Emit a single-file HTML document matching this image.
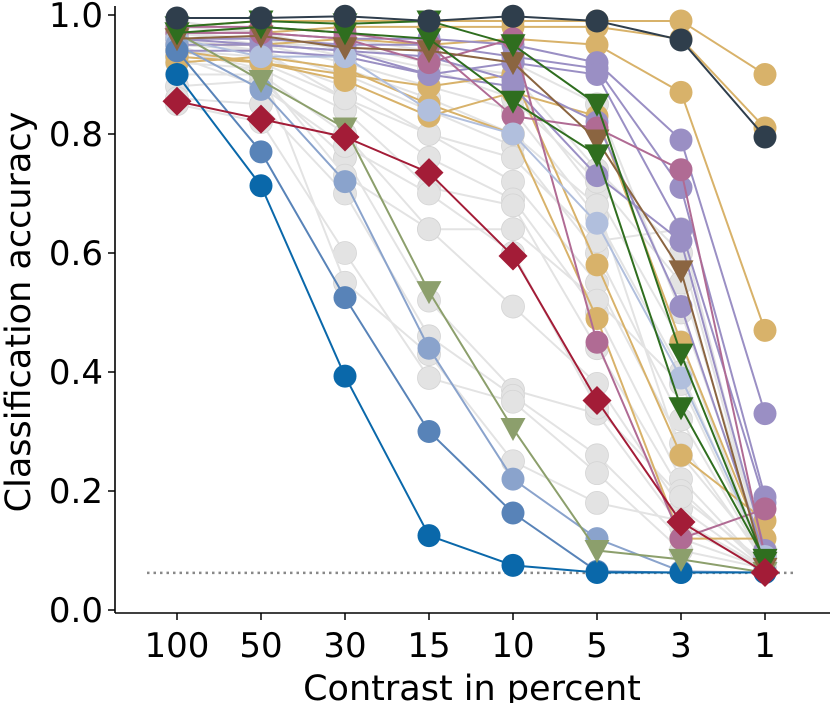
<!DOCTYPE html>
<html><head><meta charset="utf-8">
<style>
html,body{margin:0;padding:0;background:#fff;}
svg{display:block;font-family:"DejaVu Sans","Liberation Sans",sans-serif;}
</style></head>
<body>
<svg id="chart" width="830" height="703" viewBox="0 0 830 703">
  <g id="marks"></g>
  <line x1="115" y1="6" x2="115" y2="613" stroke="#000" stroke-width="1.6"/>
  <line x1="115" y1="613" x2="830" y2="613" stroke="#000" stroke-width="1.6"/>
  <g id="axes"></g>
  <text x="30" y="312" font-size="35" text-anchor="middle" transform="rotate(-90 30 312)">Classification accuracy</text>
  <text x="472" y="700" font-size="35" text-anchor="middle">Contrast in percent</text>
</svg>
<script>
const categories = ["100","50","30","15","10","5","3","1"];
const yTicks = [0.0,0.2,0.4,0.6,0.8,1.0];
const chance = 0.0625;
const grayValues = [
 [0.97,0.96,0.93,0.90,0.88,0.70,0.45,0.08],
 [0.96,0.95,0.92,0.88,0.84,0.66,0.40,0.08],
 [0.95,0.94,0.90,0.84,0.78,0.60,0.32,0.08],
 [0.94,0.93,0.88,0.80,0.72,0.55,0.28,0.08],
 [0.93,0.92,0.86,0.76,0.69,0.50,0.22,0.07],
 [0.92,0.91,0.84,0.71,0.68,0.44,0.20,0.07],
 [0.90,0.90,0.80,0.64,0.51,0.38,0.17,0.07],
 [0.88,0.89,0.76,0.52,0.37,0.33,0.14,0.07],
 [0.86,0.85,0.70,0.46,0.36,0.26,0.12,0.07],
 [0.85,0.82,0.60,0.39,0.35,0.23,0.10,0.07],
 [0.97,0.95,0.95,0.92,0.90,0.74,0.60,0.09],
 [0.98,0.97,0.94,0.91,0.86,0.72,0.55,0.10],
 [0.96,0.94,0.86,0.80,0.76,0.62,0.64,0.09],
 [0.95,0.90,0.73,0.64,0.64,0.52,0.38,0.08],
 [0.99,0.97,0.96,0.94,0.92,0.85,0.50,0.10],
 [0.94,0.91,0.55,0.43,0.25,0.18,0.15,0.07],
 [0.93,0.88,0.78,0.70,0.60,0.34,0.19,0.08],
 [0.96,0.93,0.91,0.86,0.80,0.68,0.26,0.09]
];
const colorNames = ["gold","gold","gold","gold","gold","gold","purple","purple","purple","purple","purple","mauve","mauve","lightest-blue","lighter-blue","mid-blue","dark-blue","olive","brown","green","green","slate","red"];
const colorHex = ["#d8b26a","#d8b26a","#d8b26a","#d8b26a","#d8b26a","#d8b26a","#9a8fc4","#9a8fc4","#9a8fc4","#9a8fc4","#9a8fc4","#b06b94","#b06b94","#b1bfdd","#8aa3cc","#5883b8","#0a68aa","#8c9f6c","#8b6541","#2f6e1f","#2f6e1f","#2f3e4c","#a31c37"];
const shapes = ["o","o","o","o","o","o","o","o","o","o","o","o","o","o","o","o","o","v","v","v","v","o","d"];
const colorValues = [
 [0.98,0.99,0.99,0.99,0.99,0.99,0.99,0.90],
 [0.97,0.97,0.98,0.98,0.98,0.98,0.96,0.81],
 [0.95,0.95,0.96,0.95,0.96,0.95,0.87,0.47],
 [0.93,0.92,0.90,0.88,0.90,0.58,0.26,0.15],
 [0.92,0.93,0.91,0.85,0.80,0.49,0.12,0.12],
 [0.94,0.92,0.89,0.83,0.87,0.83,0.45,0.10],
 [0.97,0.97,0.96,0.96,0.95,0.92,0.79,0.33],
 [0.96,0.96,0.95,0.95,0.93,0.91,0.71,0.19],
 [0.95,0.95,0.94,0.90,0.92,0.90,0.64,0.18],
 [0.94,0.94,0.93,0.90,0.88,0.73,0.62,0.10],
 [0.96,0.95,0.94,0.93,0.89,0.82,0.51,0.09],
 [0.97,0.97,0.96,0.92,0.96,0.45,0.12,0.17],
 [0.98,0.98,0.97,0.95,0.83,0.81,0.74,0.09],
 [0.96,0.93,0.93,0.84,0.80,0.65,0.39,0.09],
 [0.95,0.875,0.72,0.44,0.22,0.12,0.065,0.063],
 [0.94,0.77,0.525,0.30,0.163,0.065,0.063,0.063],
 [0.90,0.713,0.393,0.125,0.075,0.063,0.063,0.063],
 [0.97,0.89,0.81,0.535,0.305,0.10,0.085,0.063],
 [0.96,0.965,0.945,0.94,0.92,0.79,0.57,0.07],
 [0.98,0.99,0.985,0.99,0.95,0.85,0.43,0.08],
 [0.97,0.98,0.97,0.96,0.855,0.765,0.34,0.085],
 [0.995,0.995,0.998,0.99,0.998,0.99,0.958,0.795],
 [0.855,0.825,0.795,0.735,0.595,0.352,0.148,0.063]
];
const NS="http://www.w3.org/2000/svg";
function xs(i){return 177+i*84;}
function ys(v){return 610-v*595;}
const marks=document.getElementById('marks');
const axes=document.getElementById('axes');
function mk(tag,attrs,parent){const e=document.createElementNS(NS,tag);for(const k in attrs)e.setAttribute(k,attrs[k]);parent.appendChild(e);return e;}
function drawSeries(vals,color,shape,name,edge){
  const g=mk('g',{},marks);
  
  
  const pts=vals.map((v,i)=>xs(i)+','+ys(v)).join(' ');
  const pl=mk('polyline',{points:pts,fill:'none',stroke:color,'stroke-width':2},g);
  
  
  vals.forEach((v,i)=>{
    const x=xs(i),y=ys(v);let m;
    if(shape==='o')m=mk('circle',{cx:x,cy:y,r:11.5,fill:color,stroke:edge,'stroke-width':0.8},g);
    else if(shape==='v')m=mk('polygon',{points:(x-12.5)+','+(y-10.5)+' '+(x+12.5)+','+(y-10.5)+' '+x+','+(y+12.5),fill:color},g);
    else m=mk('polygon',{points:x+','+(y-14.5)+' '+(x+14.5)+','+y+' '+x+','+(y+14.5)+' '+(x-14.5)+','+y,fill:color},g);
    
    
  });
}
grayValues.forEach((vals,k)=>drawSeries(vals,'#e3e3e3','o','gray-series-'+k,'#d4d4d4'));
const cl=mk('line',{x1:147,x2:797,y1:ys(chance),y2:ys(chance),stroke:'#888','stroke-width':2.5,'stroke-dasharray':'2.5,4'},marks);


colorValues.forEach((vals,k)=>drawSeries(vals,colorHex[k],shapes[k],colorNames[k]+'-series-'+k,'none'));
yTicks.forEach(t=>{
  const y=ys(t);
  const l=mk('line',{x1:108,x2:115,y1:y,y2:y,stroke:'#000','stroke-width':1.5},axes);
  
  
  const tx=mk('text',{x:103,y:y+12,'font-size':34,'text-anchor':'end'},axes);
  tx.textContent=t.toFixed(1);
  
  
});
categories.forEach((c,i)=>{
  const x=xs(i);
  const l=mk('line',{x1:x,x2:x,y1:613,y2:620,stroke:'#000','stroke-width':1.5},axes);
  
  
  const tx=mk('text',{x:x,y:657,'font-size':34,'text-anchor':'middle'},axes);
  tx.textContent=c;
  
  
});
</script>
</body></html>
